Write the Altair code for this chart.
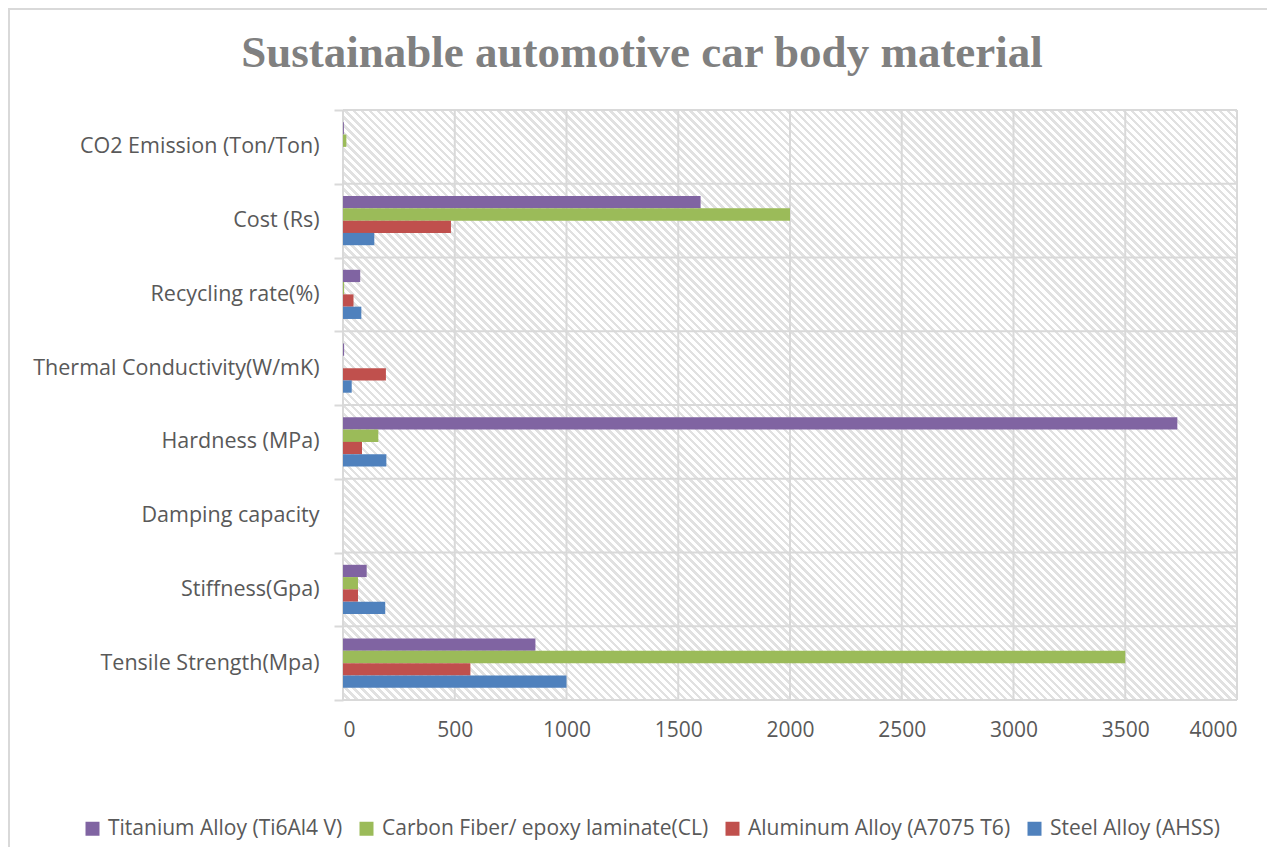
import altair as alt
import pandas as pd

categories = [
    "CO2 Emission (Ton/Ton)",
    "Cost (Rs)",
    "Recycling rate(%)",
    "Thermal Conductivity(W/mK)",
    "Hardness (MPa)",
    "Damping capacity",
    "Stiffness(Gpa)",
    "Tensile Strength(Mpa)",
]
series = [
    "Titanium Alloy (Ti6Al4 V)",
    "Carbon Fiber/ epoxy laminate(CL)",
    "Aluminum Alloy (A7075 T6)",
    "Steel Alloy (AHSS)",
]
titanium = [4, 1600, 77, 5, 3733, 0, 106, 861]
carbon = [15, 2000, 5, 0, 158, 0, 67, 3500]
aluminum = [0, 483, 47, 192, 85, 0, 67, 570]
steel = [0, 140, 82, 39, 194, 0, 189, 1000]
x_ticks = [0, 500, 1000, 1500, 2000, 2500, 3000, 3500, 4000]
colors = ["#8064a2", "#9bbb59", "#c0504d", "#4f81bd"]

rows = []
for s, vals in zip(series, [titanium, carbon, aluminum, steel]):
    for c, v in zip(categories, vals):
        rows.append({"category": c, "series": s, "value": v})
df = pd.DataFrame(rows)
cat_df = pd.DataFrame({"category": categories})
tick_df = pd.DataFrame({"tick": x_ticks})

# diagonal hatch background via gradient stops
W, H = 894, 590
stops = []
n = 185
for i in range(n):
    a = i / n
    b = (i + 0.55) / n
    e = (i + 1) / n
    stops += [
        {"offset": a, "color": "#ffffff"},
        {"offset": b, "color": "#ffffff"},
        {"offset": b, "color": "#e1e1e1"},
        {"offset": e, "color": "#e1e1e1"},
    ]
ratio = H / W
lam = (1 + ratio) / (1 + ratio * ratio)
hatch = {
    "gradient": "linear",
    "x1": 0, "y1": 1,
    "x2": lam, "y2": 1 - lam * ratio,
    "stops": stops,
}

font = "Open Sans"
grid_color = "#d9d9d9"
text_color = "#595959"

y_enc = alt.Y(
    "category:N",
    sort=categories,
    title=None,
    scale=alt.Scale(paddingInner=0, paddingOuter=0),
    axis=alt.Axis(
        tickBand="extent",
        grid=False,
        domain=False,
        tickColor=grid_color,
        tickWidth=2,
        tickSize=9,
        labelPadding=15,
        labelFont=font,
        labelFontSize=21.5,
        labelColor=text_color,
        labelLimit=400,
    ),
)
x_scale = alt.Scale(domain=[0, 4000], nice=False)

frame = alt.Chart(pd.DataFrame({"a": [0]})).mark_rect(
    fill=None, stroke=grid_color, strokeWidth=2
).encode(
    x=alt.value(-334), x2=alt.value(W + 80), y=alt.value(-101), y2=alt.value(H + 200)
)

bg = alt.Chart(pd.DataFrame({"a": [0]})).mark_rect(fill=hatch).encode(
    x=alt.value(0), x2=alt.value("width"), y=alt.value(0), y2=alt.value("height")
)

vgrid = alt.Chart(tick_df).mark_rule(color=grid_color, strokeWidth=2).encode(
    x=alt.X("tick:Q", scale=x_scale)
)

hgrid_top = alt.Chart(cat_df).mark_rule(color=grid_color, strokeWidth=2).encode(
    y=alt.Y("category:N", sort=categories, bandPosition=0)
)
hgrid_bottom = (
    alt.Chart(cat_df)
    .transform_filter(alt.datum.category == categories[-1])
    .mark_rule(color=grid_color, strokeWidth=2)
    .encode(y=alt.Y("category:N", sort=categories, bandPosition=1))
)

bars = alt.Chart(df).mark_bar().encode(
    y=y_enc,
    yOffset=alt.YOffset(
        "series:N", sort=series, scale=alt.Scale(paddingInner=0, paddingOuter=1)
    ),
    x=alt.X(
        "value:Q",
        title=None,
        scale=x_scale,
        axis=alt.Axis(
            values=x_ticks,
            format="d",
            grid=False,
            domain=False,
            ticks=False,
            labelPadding=19,
            labelFont=font,
            labelFontSize=21,
            labelColor=text_color,
        ),
    ),
    color=alt.Color(
        "series:N",
        sort=series,
        scale=alt.Scale(domain=series, range=colors),
        legend=alt.Legend(
            title=None,
            orient="none",
            direction="horizontal",
            legendX=-261,
            legendY=708,
            symbolType="square",
            symbolSize=196,
            symbolStrokeWidth=0,
            labelFont=font,
            labelFontSize=21,
            labelColor=text_color,
            columnPadding=13,
            labelOffset=5,
            labelLimit=500,
        ),
    ),
)

chart = (
    alt.layer(frame, bg, vgrid, hgrid_top, hgrid_bottom, bars)
    .resolve_scale(y="shared", x="shared")
    .properties(
        width=W,
        height=H,
        autosize=alt.AutoSizeParams(type="none"),
        padding={"left": 335, "top": 102, "right": 30, "bottom": 147},
        title=alt.TitleParams(
            "Sustainable automotive car body material",
            font="Liberation Serif",
            fontSize=45,
            fontWeight="bold",
            color="#808080",
            anchor="middle",
            dx=-148,
            offset=-68,
        ),
    )
    .configure_view(stroke=None)
)

chart.save("out.html", embed_options={"renderer": "svg", "actions": False})
